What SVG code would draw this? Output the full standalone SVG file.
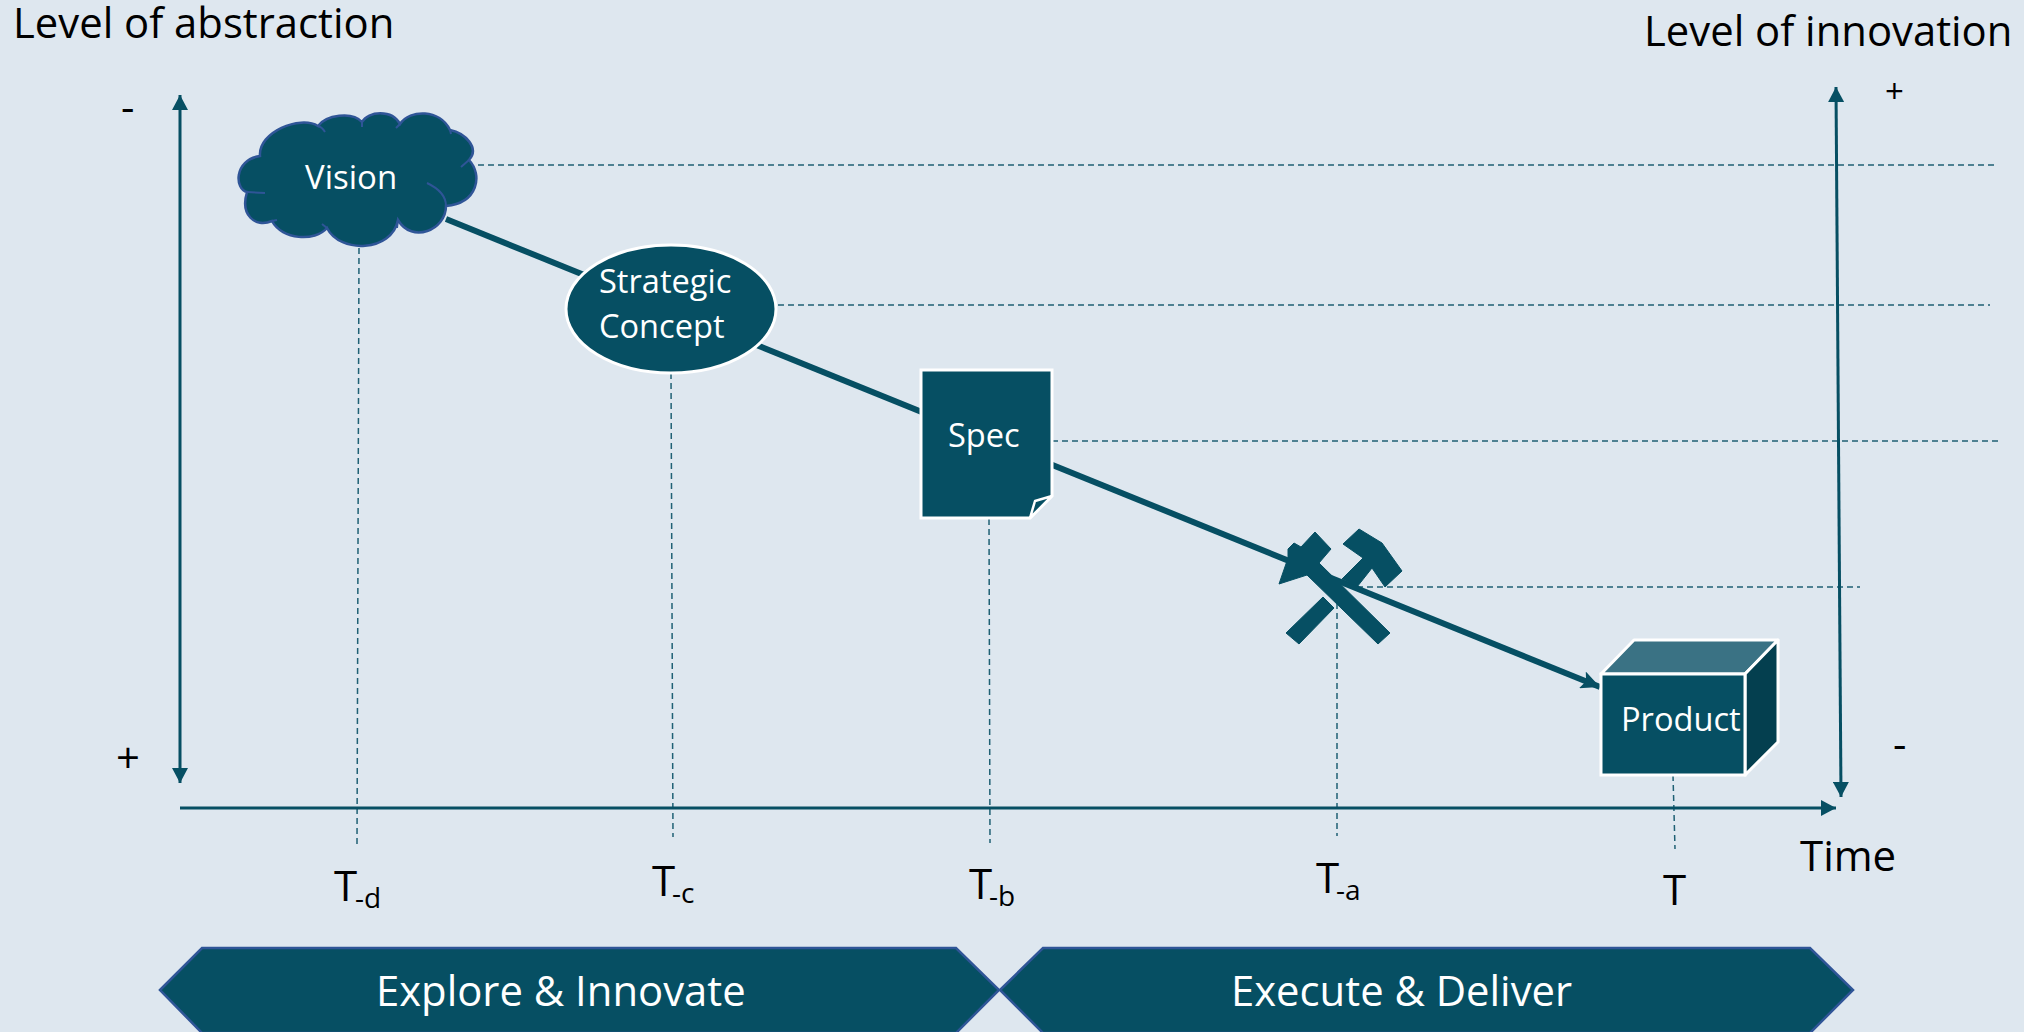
<svg xmlns="http://www.w3.org/2000/svg" width="2024" height="1032" viewBox="0 0 2024 1032">
<style>
text{font-family:"Open Sans","Noto Sans","Liberation Sans",sans-serif}
.k{fill:#000;font-size:41.8px}
.t{fill:#000;font-size:42px}
.s{fill:#000;font-size:28px}
.p{fill:#000;font-size:33px}
.w{fill:#fff;font-size:32.6px}
.b{fill:#fff;font-size:41.8px}
.n{fill:#064f63;stroke:#fff;stroke-width:3}
.d{fill:none;stroke:#1f6074;stroke-width:1.5;stroke-dasharray:6 4}
.a{fill:none;stroke:#064f63;stroke-width:3}
.h{fill:#064f63;stroke:#064f63;stroke-width:1;stroke-linejoin:round}
.c{fill:#064f63;stroke:#2f5597;stroke-width:2.5}
</style>
<defs>
<marker id="ah" markerUnits="userSpaceOnUse" markerWidth="16" markerHeight="16" refX="15" refY="8" orient="auto-start-reverse"><path d="M0 0L15 8L0 16Z" fill="#064f63"/></marker>
<marker id="am" markerUnits="userSpaceOnUse" markerWidth="20" markerHeight="18" refX="19" refY="9" orient="auto"><path d="M0 0L19 9L0 18L4 9Z" fill="#064f63"/></marker>
</defs>
<rect width="2024" height="1032" fill="#dee7ef"/>
<g id="connectors">
<path class="d" d="M478 165H1995M778 305H1990M1052 441H2000M1357 587H1860"/>
<path class="d" d="M359 248L357 845M671 373L673 837M989 519L990 843M1337 603V836M1673 775L1675 849"/>
<path class="a" d="M180 95V783" marker-start="url(#ah)" marker-end="url(#ah)"/>
<path class="a" d="M1836 87L1841 797" marker-start="url(#ah)" marker-end="url(#ah)"/>
<path class="a" d="M180 808H1836" marker-end="url(#ah)"/>
<path d="M446 219L1600 687" fill="none" stroke="#064f63" stroke-width="6" marker-end="url(#am)"/>
</g>
<g id="vision">
<path class="c" d="M260 156C258 132 300 115 318 126C326 115 352 111 362 122C368 111 392 109 400 124C410 109 440 109 450 130C465 133 480 148 469 160C483 175 478 203 446 206C446 230 412 244 398 220C392 252 340 254 327 228C315 242 282 240 272 221C255 228 240 215 247 192C235 190 233 160 260 156Z"/>
<path d="M325 132Q322 127 318 126M362 122V127M400 124L396 128M450 130L451 134M469 160L461 167M427 183Q446 192 446 206M247 192L265 193M272 221L277 220M398 220L397 228M327 228L322 224" fill="none" stroke="#2f5597" stroke-width="2"/>
<text class="w" style="font-size:33px" x="305" y="189">Vision</text>
</g>
<g id="strategic-concept">
<ellipse class="n" cx="671" cy="309" rx="105" ry="64"/>
<text class="w" x="599" y="293">Strategic</text>
<text class="w" x="599" y="338">Concept</text>
</g>
<g id="spec">
<path class="n" d="M921 370H1052V496L1030 518H921Z"/>
<path d="M1052 496L1035 501L1030 518Z" fill="#064f63" stroke="#fff" stroke-width="2.5" stroke-linejoin="round"/>
<text class="w" x="948" y="447">Spec</text>
</g>
<g id="tools">
<path class="h" d="M1315 532L1331 549L1319 563L1390 633L1378 644L1307 575L1279 584L1288 558V549L1294 543L1301 547Z"/>
<path class="h" d="M1359 529L1382 543L1402 571L1385 587L1372 568L1357 587L1342 579L1363 558L1343 544Z"/>
<path class="h" d="M1323 597L1334 608L1299 644L1286 633Z"/>
</g>
<g id="product">
<path d="M1601 674L1634 640H1778L1745 674Z" fill="#3a7284" stroke="#fff" stroke-width="3" stroke-linejoin="round"/>
<path d="M1745 674L1778 640V742L1745 775Z" fill="#043f4f" stroke="#fff" stroke-width="3" stroke-linejoin="round"/>
<rect class="n" x="1601" y="674" width="144" height="101"/>
<text class="w" x="1621" y="731">Product</text>
</g>
<g id="phases">
<path class="c" d="M160 990L202 948H956L999 990L956 1033H202Z"/>
<path class="c" d="M1000 990L1043 948H1810L1853 990L1810 1033H1043Z"/>
<text class="b" x="376" y="1006">Explore &amp; Innovate</text>
<text class="b" x="1231" y="1006">Execute &amp; Deliver</text>
</g>
<g id="labels">
<text class="k" x="13" y="38">Level of abstraction</text>
<text class="k" x="1644" y="46">Level of innovation</text>
<text class="k" x="121" y="122">-</text>
<text class="k" x="116" y="773">+</text>
<text class="p" x="1885" y="103">+</text>
<text class="k" x="1893" y="759">-</text>
<text class="t" x="1800" y="871">Time</text>
<text class="t" x="334" y="901">T</text><text class="s" x="355" y="908">-d</text>
<text class="t" x="652" y="896">T</text><text class="s" x="672" y="903">-c</text>
<text class="t" x="969" y="899">T</text><text class="s" x="989" y="906">-b</text>
<text class="t" x="1316" y="893">T</text><text class="s" x="1336" y="900">-a</text>
<text class="t" x="1663" y="905">T</text>
</g>
</svg>
